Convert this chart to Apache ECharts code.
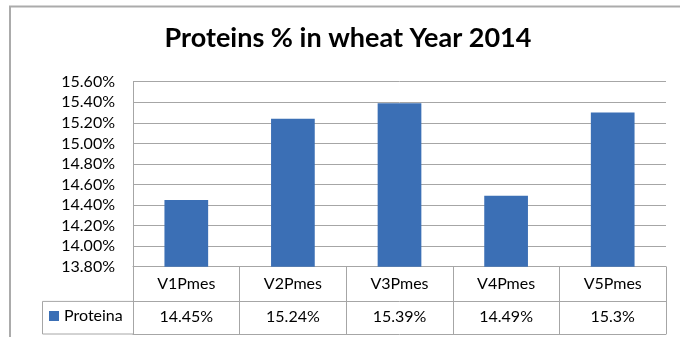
<!DOCTYPE html>
<html>
<head>
<meta charset="utf-8">
<script src="https://cdn.jsdelivr.net/npm/echarts@6/dist/echarts.min.js"></script>
<style>
  html, body { margin: 0; padding: 0; background: #fff; overflow: hidden; }
  #chart { width: 680px; height: 337px; }
</style>
</head>
<body>
<div id="chart"></div>
<script>
// Protein content of wheat samples, 2014
const categories = ['V1Pmes', 'V2Pmes', 'V3Pmes', 'V4Pmes', 'V5Pmes'];
const proteina = [14.45, 15.24, 15.39, 14.49, 15.3];
const seriesName = 'Proteina';
const yTicks = { min: 13.8, max: 15.6, step: 0.2 };

const FONT = 'Lato';
const LINE = '#A6A6A6';
const BAR = '#3B6FB5';

const chart = echarts.init(document.getElementById('chart'), null, { renderer: 'canvas' });

const grid = { left: 133, right: 14, top: 81.7, bottom: 70.3 };

const option = {
  animation: false,
  backgroundColor: '#fff',
  title: {
    text: 'Proteins % in wheat Year 2014',
    left: 348,
    textAlign: 'center',
    top: 25,
    padding: 0,
    textStyle: { fontFamily: FONT, fontWeight: 'bold', fontSize: 27, color: '#000' }
  },
  legend: {
    data: [seriesName],
    left: 49,
    top: 308,
    padding: 0,
    icon: 'rect',
    itemWidth: 10,
    itemHeight: 10,
    itemGap: 0,
    textStyle: { fontFamily: FONT, fontSize: 16, color: '#000' }
  },
  grid: grid,
  yAxis: {
    type: 'value',
    min: yTicks.min,
    max: yTicks.max,
    interval: yTicks.step,
    axisLine: { show: true, lineStyle: { color: LINE, width: 1 } },
    axisTick: { show: false },
    splitLine: { lineStyle: { color: LINE, width: 1 } },
    axisLabel: {
      margin: 18,
      fontFamily: FONT,
      fontSize: 16,
      color: '#000',
      formatter: v => v.toFixed(2) + '%'
    }
  },
  xAxis: [
    {
      // category row of the data table
      type: 'category',
      data: categories,
      axisLine: { show: true, lineStyle: { color: LINE, width: 1 } },
      axisTick: { show: true, interval: 0, length: 67.3, lineStyle: { color: LINE, width: 1 } },
      axisLabel: { interval: 0, margin: 9, fontFamily: FONT, fontSize: 16, color: '#000' }
    },
    {
      // value row of the data table
      type: 'category',
      data: categories,
      position: 'bottom',
      offset: 34.7,
      axisLine: { show: true, lineStyle: { color: LINE, width: 1 } },
      axisTick: { show: false },
      axisLabel: {
        interval: 0, margin: 7, fontFamily: FONT, fontSize: 16, color: '#000',
        formatter: (v, i) => proteina[i] + '%'
      }
    },
    {
      // bottom edge of the data table
      type: 'category',
      data: categories,
      position: 'bottom',
      offset: 67.3,
      axisLine: { show: true, lineStyle: { color: LINE, width: 1 } },
      axisTick: { show: false },
      axisLabel: { show: false }
    }
  ],
  series: [
    {
      name: seriesName,
      type: 'bar',
      xAxisIndex: 0,
      data: proteina,
      barWidth: '41%',
      itemStyle: { color: BAR }
    }
  ]
};

chart.setOption(option);

// Legend key cell of the data table and the outer chart frame
const plotLeft = grid.left;
const rowTop = 337 - grid.bottom + 34.7;
const rowBottom = 337 - grid.bottom + 67.3;
chart.setOption({
  graphic: [
    {
      type: 'polyline',
      shape: { points: [[10, 337], [10, 6.5], [680, 6.5]] },
      style: { fill: 'none', stroke: '#ABABAB', lineWidth: 2 },
      silent: true
    },
    {
      type: 'polyline',
      shape: { points: [[plotLeft, rowTop], [42.5, rowTop], [42.5, rowBottom], [plotLeft, rowBottom]] },
      style: { fill: 'none', stroke: LINE, lineWidth: 1 },
      silent: true
    }
  ]
});
</script>
</body>
</html>
